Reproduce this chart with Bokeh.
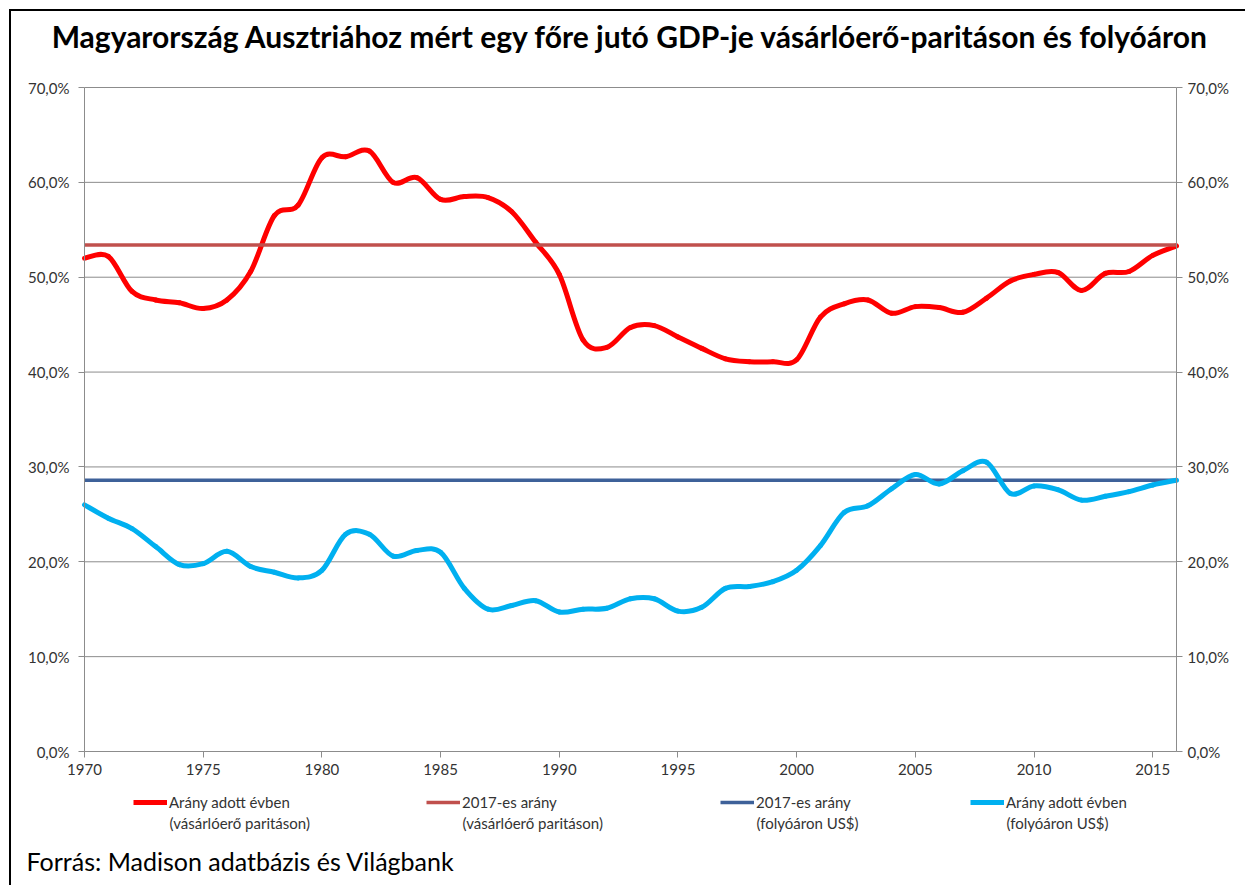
import numpy as np
from bokeh.plotting import figure
from bokeh.models import (Range1d, LinearAxis, FixedTicker, CustomJSTickFormatter,
                          Legend, LegendItem, Label, ColumnDataSource)
from bokeh.embed import file_html
from bokeh.resources import INLINE

# ---------------- data ----------------
years = [1970, 1971, 1972, 1973, 1974, 1975, 1976, 1977, 1978, 1979,
         1980, 1981, 1982, 1983, 1984, 1985, 1986, 1987, 1988, 1989,
         1990, 1991, 1992, 1993, 1994, 1995, 1996, 1997, 1998, 1999,
         2000, 2001, 2002, 2003, 2004, 2005, 2006, 2007, 2008, 2009,
         2010, 2011, 2012, 2013, 2014, 2015, 2016]

ratio_ppp = [52.0, 52.2, 48.5, 47.6, 47.3, 46.7, 47.6, 50.6, 56.5, 57.6,
             62.6, 62.7, 63.3, 60.0, 60.5, 58.2, 58.5, 58.4, 56.9, 53.7,
             50.3, 43.4, 42.6, 44.7, 44.9, 43.7, 42.5, 41.4, 41.1, 41.1,
             41.3, 45.8, 47.2, 47.6, 46.2, 46.9, 46.8, 46.3, 47.8, 49.6,
             50.3, 50.5, 48.6, 50.4, 50.6, 52.3, 53.3]

ratio_usd = [26.0, 24.6, 23.5, 21.6, 19.7, 19.8, 21.1, 19.5, 18.9, 18.3,
             19.1, 22.9, 22.9, 20.6, 21.2, 21.0, 17.2, 15.0, 15.4, 15.9,
             14.7, 15.0, 15.1, 16.1, 16.1, 14.8, 15.2, 17.2, 17.4, 17.9,
             19.1, 21.7, 25.2, 25.9, 27.7, 29.2, 28.2, 29.6, 30.5, 27.2,
             28.0, 27.6, 26.5, 26.9, 27.4, 28.1, 28.6]

ppp_2017 = 53.4
usd_2017 = 28.6

x_ticks = [1970, 1975, 1980, 1985, 1990, 1995, 2000, 2005, 2010, 2015]
y_ticks = [0, 10, 20, 30, 40, 50, 60, 70]

series_line1 = ["Arány adott évben", "2017-es arány", "2017-es arány", "Arány adott évben"]
series_line2 = ["(vásárlóerő paritáson)", "(vásárlóerő paritáson)",
                "(folyóáron US$)", "(folyóáron US$)"]

title_text = "Magyarország Ausztriához mért egy főre jutó GDP-je vásárlóerő-paritáson és folyóáron"
source_text = "Forrás: Madison adatbázis és Világbank"

# ---------------- styling / layout ----------------
FONT = "Lato"
TXT = "#333333"
GRID = "#8c8c8c"
C_RED = "#ff0000"
C_PPP = "#c0504d"
C_BLUE = "#3e6199"
C_CYAN = "#00b0f0"

W, H = 1236, 876            # canvas (page offset 11,11 after margin + border)
PLOT_L, PLOT_R = 73, 1165   # plot area in canvas px
PLOT_T, PLOT_B = 76, 740

y0, y1 = y_ticks[0], y_ticks[-1]
x0, x1 = years[0], years[-1]
ppy = (PLOT_B - PLOT_T) / (y1 - y0)
ppx = (PLOT_R - PLOT_L) / (x1 - x0)
y_range = Range1d(y0 - (H - PLOT_B) / ppy, y1 + PLOT_T / ppy)
x_range = Range1d(x0 - PLOT_L / ppx, x1 + (W - PLOT_R) / ppx)


def smooth_source(xs, ys):
    """Catmull-Rom style smoothing (like Excel's smoothed line) as bezier segments."""
    x = np.asarray(xs, dtype=float)
    y = np.asarray(ys, dtype=float)
    xp = np.concatenate([[x[0]], x, [x[-1]]])
    yp = np.concatenate([[y[0]], y, [y[-1]]])
    i = np.arange(len(x) - 1)
    return ColumnDataSource(dict(
        x0=x[:-1], y0=y[:-1], x1=x[1:], y1=y[1:],
        cx0=x[:-1] + (xp[i + 2] - xp[i]) / 6.0,
        cy0=y[:-1] + (yp[i + 2] - yp[i]) / 6.0,
        cx1=x[1:] - (xp[i + 3] - xp[i + 1]) / 6.0,
        cy1=y[1:] - (yp[i + 3] - yp[i + 1]) / 6.0))


p = figure(width=W, height=H, output_backend="svg", toolbar_location=None,
           x_range=x_range, y_range=y_range,
           x_axis_location=None, y_axis_location=None,
           min_border=0)
p.outline_line_color = None
p.background_fill_color = "white"
p.border_fill_color = "white"
p.grid.visible = False
p.styles = {"margin-left": "9px", "margin-top": "9px",
            "border-top": "2px solid #000", "border-left": "2px solid #000"}

fmt = CustomJSTickFormatter(code="return tick.toFixed(1).replace('.', ',') + '%';")

# gridlines
p.segment(x0=[x0] * len(y_ticks), x1=[x1] * len(y_ticks), y0=y_ticks, y1=y_ticks,
          line_color=GRID, line_width=1)

la = LinearAxis(ticker=FixedTicker(ticks=y_ticks), formatter=fmt,
                fixed_location=x0, bounds=(y0, y1))
ra = LinearAxis(ticker=FixedTicker(ticks=y_ticks), formatter=fmt,
                fixed_location=x1, bounds=(y0, y1))
xa = LinearAxis(ticker=FixedTicker(ticks=x_ticks), fixed_location=y0, bounds=(x0, x1))
p.add_layout(la, "left")
p.add_layout(ra, "right")
p.add_layout(xa, "below")

for ax in (la, ra, xa):
    ax.axis_line_color = GRID
    ax.axis_line_width = 1
    ax.major_tick_line_color = GRID
    ax.minor_tick_line_color = None
    ax.major_tick_in = 0
    ax.major_tick_out = 6
    ax.major_label_text_font = FONT
    ax.major_label_text_font_size = "15px"
    ax.major_label_text_color = TXT
la.major_label_standoff = 9
ra.major_label_standoff = 5
xa.major_label_standoff = 6

# series (drawing order as in the original)
src_ppp = smooth_source(years, ratio_ppp)
p.bezier(x0="x0", y0="y0", x1="x1", y1="y1", cx0="cx0", cy0="cy0", cx1="cx1", cy1="cy1",
         source=src_ppp, line_color=C_RED, line_width=5, line_cap="round")
r_ppp17 = p.line([x0, x1], [ppp_2017, ppp_2017], line_color=C_PPP, line_width=3.5)
r_usd17 = p.line([x0, x1], [usd_2017, usd_2017], line_color=C_BLUE, line_width=3.5)
src_usd = smooth_source(years, ratio_usd)
p.bezier(x0="x0", y0="y0", x1="x1", y1="y1", cx0="cx0", cy0="cy0", cx1="cx1", cy1="cy1",
         source=src_usd, line_color=C_CYAN, line_width=5, line_cap="round")

# legend proxies (draw nothing in the plot, only their legend glyph)
nan2 = [float("nan"), float("nan")]
lg_red = p.line(nan2, nan2, line_color=C_RED, line_width=5)
lg_cyan = p.line(nan2, nan2, line_color=C_CYAN, line_width=5)

# one legend per entry so that each entry sits where the original has it
legend_x = [122, 415, 709, 959]   # left edge of each entry, px from canvas left
legend_y = 75                     # bottom edge, px above canvas bottom
GLYPH_W, STANDOFF = 34, 2
for lx, lab1, lab2, rend in zip(legend_x, series_line1, series_line2,
                                [lg_red, r_ppp17, r_usd17, lg_cyan]):
    lg = Legend(items=[LegendItem(label=lab1, renderers=[rend])],
                location=(lx, legend_y), orientation="horizontal",
                padding=0, margin=0, spacing=0, label_standoff=STANDOFF,
                glyph_width=GLYPH_W, glyph_height=20,
                border_line_color=None, background_fill_alpha=0,
                label_text_font=FONT, label_text_font_size="15px",
                label_text_color=TXT)
    p.add_layout(lg, "center")
    p.add_layout(Label(x=lx + GLYPH_W + STANDOFF, y=legend_y - 10,
                       x_units="screen", y_units="screen", text=lab2,
                       text_align="left", text_baseline="middle",
                       text_font=FONT, text_font_size="15px", text_color=TXT))

p.add_layout(Label(x=619, y=852, x_units="screen", y_units="screen", text=title_text,
                   text_align="center", text_baseline="alphabetic",
                   text_font=FONT, text_font_size="30px", text_font_style="bold",
                   text_color="#000000"))
p.add_layout(Label(x=15, y=27, x_units="screen", y_units="screen", text=source_text,
                   text_align="left", text_baseline="alphabetic",
                   text_font=FONT, text_font_size="25px", text_color="#000000"))

open("out.html", "w").write(file_html(p, INLINE))
